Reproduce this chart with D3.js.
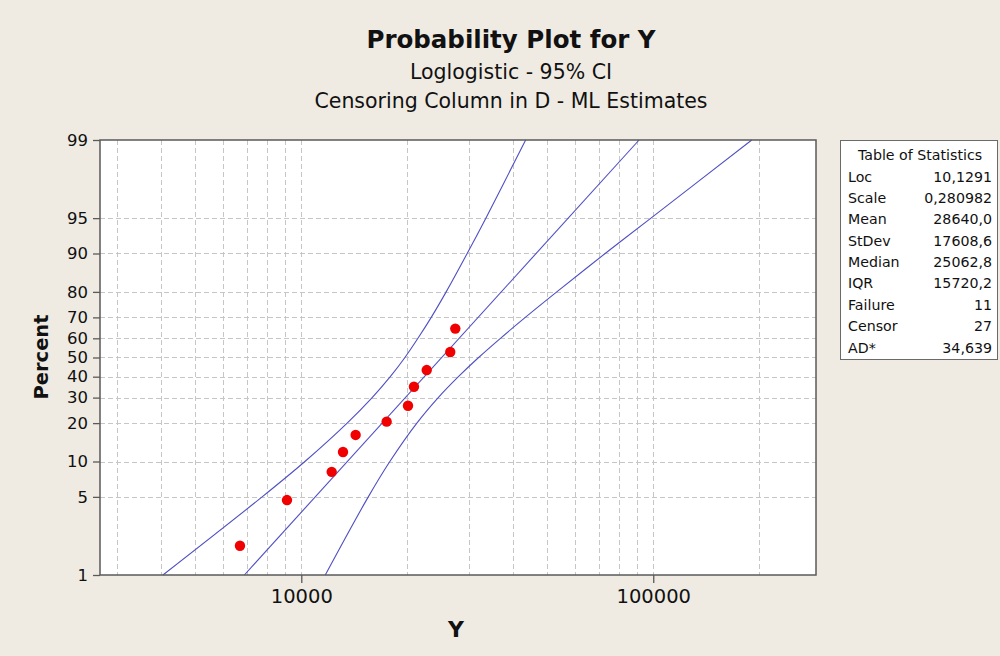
<!DOCTYPE html>
<html>
<head>
<meta charset="utf-8">
<script src="https://cdn.jsdelivr.net/npm/d3@7"></script>
<style>
  html, body { margin: 0; padding: 0; background: #efebe2; }
  svg { display: block; }
  text { font-family: "DejaVu Sans", Verdana, sans-serif; fill: #111; }
</style>
</head>
<body>
<svg id="chart" width="1000" height="656"></svg>
<script>
// ---------- data ----------
const titleText = "Probability Plot for Y";
const subtitle1 = "Loglogistic - 95% CI";
const subtitle2 = "Censoring Column in D - ML Estimates";
const xLabel = "Y";
const yLabel = "Percent";

const percentTicks = [1, 5, 10, 20, 30, 40, 50, 60, 70, 80, 90, 95, 99];
const xTickValues = [10000, 100000];
const xGridValues = [3000, 4000, 5000, 6000, 7000, 8000, 9000, 10000,
                     20000, 30000, 40000, 50000, 60000, 70000, 80000, 90000, 100000, 200000];
const xDomain = [2680, 290000];
const yDomainPct = [1, 99];

// failure points
const failY   = [6696, 9107, 12200, 13140, 14270, 17480, 20100, 20900, 22720, 26500, 27390];
const failPct = [1.84, 4.69, 8.2, 11.95, 16.3, 20.5, 26.5, 35, 43.4, 52.9, 64.8];

// fitted line
const fitPct = [1, 99];
const fitY   = [6890, 91150];

// 95% confidence bands
const bandPct = [1, 5, 10, 20, 30, 40, 50, 60, 70, 80, 90, 95, 99];
const upperY  = [4045, 7740, 10240, 13500, 15900, 17900, 19700, 21450, 23400, 25800, 29600, 33450, 43400];
const lowerY  = [11700, 15500, 17850, 21300, 24500, 27950, 31900, 36800, 43300, 53200, 73000, 98500, 190500];

// statistics table
const statLabels = ["Loc", "Scale", "Mean", "StDev", "Median", "IQR", "Failure", "Censor", "AD*"];
const statValues = ["10,1291", "0,280982", "28640,0", "17608,6", "25062,8", "15720,2", "11", "27", "34,639"];

// ---------- layout ----------
const plot = { left: 100, right: 816, top: 140, bottom: 575 };
const svg = d3.select("#chart");
const FONT = "'DejaVu Sans', Verdana, sans-serif";

const logit = p => Math.log((p / 100) / (1 - p / 100));

const x = d3.scaleLog().domain(xDomain).range([plot.left, plot.right]);
const y = d3.scaleLinear().domain(yDomainPct.map(logit)).range([plot.bottom, plot.top]);
const yp = p => y(logit(p));

// background
svg.append("rect").attr("width", 1000).attr("height", 656).attr("fill", "#efebe2");
svg.append("rect")
  .attr("x", plot.left).attr("y", plot.top)
  .attr("width", plot.right - plot.left).attr("height", plot.bottom - plot.top)
  .attr("fill", "#ffffff");

// grid
const grid = svg.append("g").attr("stroke", "#c6c6c6").attr("stroke-width", 1).attr("stroke-dasharray", "5,3");
grid.selectAll("line.v").data(xGridValues).join("line")
  .attr("x1", d => Math.round(x(d)) + 0.5).attr("x2", d => Math.round(x(d)) + 0.5)
  .attr("y1", plot.top).attr("y2", plot.bottom);
grid.selectAll("line.h").data(percentTicks.filter(p => p > 1 && p < 99)).join("line")
  .attr("y1", d => Math.round(yp(d)) + 0.5).attr("y2", d => Math.round(yp(d)) + 0.5)
  .attr("x1", plot.left).attr("x2", plot.right);

// confidence bands and fit
const lineGen = d3.line().x(d => x(d[0])).y(d => yp(d[1])).curve(d3.curveCatmullRom);
const lineColor = "#4f4fc4";
svg.append("path").datum(upperY.map((v, i) => [v, bandPct[i]]))
  .attr("d", lineGen).attr("fill", "none").attr("stroke", lineColor).attr("stroke-width", 1.1);
svg.append("path").datum(lowerY.map((v, i) => [v, bandPct[i]]))
  .attr("d", lineGen).attr("fill", "none").attr("stroke", lineColor).attr("stroke-width", 1.1);
svg.append("path").datum(fitY.map((v, i) => [v, fitPct[i]]))
  .attr("d", d3.line().x(d => x(d[0])).y(d => yp(d[1])))
  .attr("fill", "none").attr("stroke", lineColor).attr("stroke-width", 1.1);

// points
svg.append("g").selectAll("circle").data(failY.map((v, i) => [v, failPct[i]])).join("circle")
  .attr("cx", d => x(d[0])).attr("cy", d => yp(d[1])).attr("r", 5.2)
  .attr("fill", "#f00000");

// frame
svg.append("rect")
  .attr("x", plot.left).attr("y", plot.top)
  .attr("width", plot.right - plot.left).attr("height", plot.bottom - plot.top)
  .attr("fill", "none").attr("stroke", "#5a5a5a").attr("stroke-width", 1.5);

// y axis
const yAxis = d3.axisLeft(y)
  .tickValues(percentTicks.map(logit))
  .tickFormat((d, i) => percentTicks[i])
  .tickSizeOuter(0).tickSizeInner(7).tickPadding(5);
const gy = svg.append("g").attr("transform", `translate(${plot.left},0)`).call(yAxis);
gy.select(".domain").remove();
gy.selectAll("line").attr("stroke", "#5a5a5a").attr("stroke-width", 1.3);
gy.selectAll("text").attr("font-size", 16.5).attr("fill", "#111").style("font-family", FONT);

// x axis
const xAxis = d3.axisBottom(x)
  .tickValues(xTickValues).tickFormat(d3.format("d"))
  .tickSizeOuter(0).tickSizeInner(8).tickPadding(6);
const gx = svg.append("g").attr("transform", `translate(0,${plot.bottom})`).call(xAxis);
gx.select(".domain").remove();
gx.selectAll("line").attr("stroke", "#5a5a5a").attr("stroke-width", 1.3);
gx.selectAll("text").attr("font-size", 19.5).attr("fill", "#111").style("font-family", FONT);

// titles
svg.append("text").attr("x", 511).attr("y", 48).attr("text-anchor", "middle")
  .attr("font-size", 24.5).attr("font-weight", "bold").text(titleText);
svg.append("text").attr("x", 511).attr("y", 79).attr("text-anchor", "middle")
  .attr("font-size", 20.5).text(subtitle1);
svg.append("text").attr("x", 511).attr("y", 108).attr("text-anchor", "middle")
  .attr("font-size", 20.5).text(subtitle2);
svg.append("text").attr("x", 456).attr("y", 637).attr("text-anchor", "middle")
  .attr("font-size", 22).attr("font-weight", "bold").text(xLabel);
svg.append("text").attr("transform", "translate(48,357) rotate(-90)").attr("text-anchor", "middle")
  .attr("font-size", 19.5).attr("font-weight", "bold").text(yLabel);

// stats table
const tbl = svg.append("g");
tbl.append("rect").attr("x", 840.5).attr("y", 140.5).attr("width", 157).attr("height", 219)
  .attr("fill", "#ffffff").attr("stroke", "#6a6a6a").attr("stroke-width", 1);
tbl.append("text").attr("x", 920).attr("y", 160).attr("text-anchor", "middle")
  .attr("font-size", 14.2).text("Table of Statistics");
const rowY = d3.scaleLinear().domain([0, statLabels.length - 1]).range([181.5, 352.5]);
tbl.selectAll("text.lab").data(statLabels).join("text").attr("class", "lab")
  .attr("x", 848).attr("y", (d, i) => rowY(i)).attr("font-size", 14.2).text(d => d);
tbl.selectAll("text.val").data(statValues).join("text").attr("class", "val")
  .attr("x", 992).attr("y", (d, i) => rowY(i)).attr("text-anchor", "end").attr("font-size", 14.2).text(d => d);
</script>
</body>
</html>
